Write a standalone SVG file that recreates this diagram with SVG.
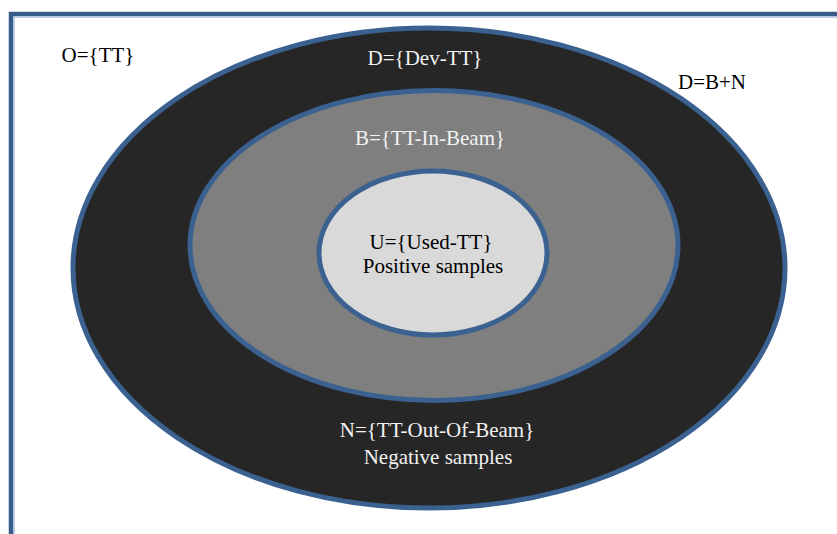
<svg xmlns="http://www.w3.org/2000/svg" width="837" height="534" viewBox="0 0 837 534">
  <style>
    .ring { stroke: #3a6190; stroke-width: 5; }
    .lbl { font-family: "Liberation Serif", "Times New Roman", serif; font-size: 21px; text-anchor: middle; }
    .dark { fill: #000000; }
    .light { fill: #f2f2f2; }
  </style>
  <rect width="837" height="534" fill="#ffffff"/>
  <!-- page frame: only the top and left edges are visible -->
  <g id="frame" fill="none">
    <path d="M11 600 V14 H900" stroke="#375d8b" stroke-width="4.5"/>
    <path d="M14 600 V17 H900" stroke="#a9bfdc" stroke-width="1.5"/>
  </g>
  <g id="D">
    <ellipse class="ring" cx="429" cy="268" rx="356" ry="240" fill="#262626"/>
    <text class="lbl light" x="425" y="65">D={Dev-TT}</text>
  </g>
  <g id="B">
    <ellipse class="ring" cx="434" cy="245.5" rx="244" ry="155" fill="#7f7f7f"/>
    <text class="lbl light" x="430" y="145">B={TT-In-Beam}</text>
  </g>
  <g id="U">
    <ellipse class="ring" cx="433" cy="253" rx="114" ry="82" fill="#d9d9d9"/>
    <text class="lbl dark" x="431" y="249">U={Used-TT}</text>
    <text class="lbl dark" x="433" y="273">Positive samples</text>
  </g>
  <g id="N">
    <text class="lbl light" x="437" y="437">N={TT-Out-Of-Beam}</text>
    <text class="lbl light" x="438" y="464">Negative samples</text>
  </g>
  <g id="O">
    <text class="lbl dark" x="98" y="62">O={TT}</text>
  </g>
  <g id="sum">
    <text class="lbl dark" x="712" y="89">D=B+N</text>
  </g>
  <g id="connectors"/>
</svg>
